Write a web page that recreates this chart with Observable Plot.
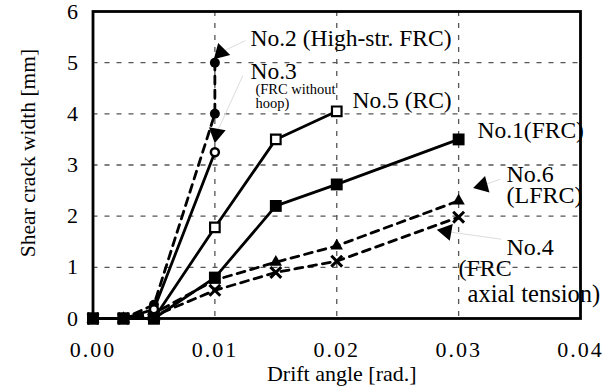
<!DOCTYPE html>
<html><head><meta charset="utf-8">
<script src="https://cdn.jsdelivr.net/npm/d3@7"></script>
<script src="https://cdn.jsdelivr.net/npm/@observablehq/plot@0.6"></script>
<style>body{margin:0;background:#fff;}</style>
</head><body><div id="chart"></div>
<script>
// ---- data ----
const driftAngles = [0, 0.0025, 0.005, 0.01, 0.015, 0.02, 0.03];
const no1FRC      = [0, 0, 0, 0.8, 2.2, 2.62, 3.5];
const no5RC       = [0, 0, 0, 1.78, 3.5, 4.05];
const no6LFRC     = [0, 0, 0.1, 0.75, 1.1, 1.42, 2.3];
const no4Tension  = [0, 0, 0.05, 0.55, 0.9, 1.12, 1.98];
const no2Angles   = [0, 0.0025, 0.005, 0.01, 0.01];
const no2HighStr  = [0, 0, 0.27, 4.0, 5.0];
const no3Angles   = [0, 0.0025, 0.005, 0.01];
const no3NoHoop   = [0, 0, 0.18, 3.25];

const xTicks = [0, 0.01, 0.02, 0.03, 0.04];
const yTicks = [0, 1, 2, 3, 4, 5, 6];
const xGrid = [0.01, 0.02, 0.03];
const yGrid = [1, 2, 3, 4, 5];

const labelTexts = ["No.2 (High-str. FRC)", "No.3", "(FRC without", "hoop)", "No.5 (RC)", "No.1(FRC)", "No.6", "(LFRC)", "No.4", "(FRC", "axial tension)"];
const labelX     = [0.01292, 0.01292, 0.01333, 0.01333, 0.02129, 0.03155, 0.03393, 0.03393, 0.03393, 0.02999, 0.03073];
const labelY     = [5.335, 4.69, 4.397, 4.12, 4.12, 3.537, 2.66, 2.267, 1.25, 0.84, 0.313];
const labelSize  = [23.5, 23.5, 14.5, 14.5, 23.5, 23.5, 24, 24, 24, 24, 24.5];

// leader arrowheads and their faint leader lines
const arrowX     = [0.01048, 0.01013, 0.03196, 0.0290];
const arrowY     = [5.2, 3.615, 2.6, 1.70];
const arrowAngle = [225, 190, 255, 280];
const leaderX2   = [0.0125, 0.0123, 0.0334, 0.0335];
const leaderY2   = [5.43, 4.75, 2.72, 1.55];

const rows = (xs, ys) => ys.map((y, i) => ({x: xs[i], y}));
const s1 = rows(driftAngles, no1FRC);
const s5 = rows(driftAngles, no5RC);
const s6 = rows(driftAngles, no6LFRC);
const s4 = rows(driftAngles, no4Tension);
const s2 = rows(no2Angles, no2HighStr);
const s3 = rows(no3Angles, no3NoHoop);
const labels = labelTexts.map((t, i) => ({t, x: labelX[i], y: labelY[i], s: labelSize[i]}));
const arrows = arrowX.map((x, i) => ({x, y: arrowY[i], a: arrowAngle[i], x2: leaderX2[i], y2: leaderY2[i]}));

const dash = "8,6";
const lw = 2.8;

const chart = Plot.plot({
  width: 614, height: 389,
  marginLeft: 92.5, marginRight: 34, marginTop: 11, marginBottom: 71,
  x: {domain: [0, 0.04]},
  y: {domain: [0, 6]},
  style: {fontFamily: "'Liberation Serif', 'Times New Roman', serif", fontSize: "22px", background: "white", color: "black", overflow: "visible"},
  marks: [
    Plot.gridY(yGrid, {stroke: "#555", strokeOpacity: 1, strokeWidth: 1.3, strokeDasharray: "5,7"}),
    Plot.gridX(xGrid, {stroke: "#555", strokeOpacity: 1, strokeWidth: 1.3, strokeDasharray: "5,7"}),
    Plot.link(arrows, {x1: "x", y1: "y", x2: "x2", y2: "y2", stroke: "#ddd", strokeWidth: 1}),
    Plot.line(s6, {x: "x", y: "y", stroke: "black", strokeWidth: lw, strokeDasharray: dash}),
    Plot.line(s4, {x: "x", y: "y", stroke: "black", strokeWidth: lw, strokeDasharray: dash}),
    Plot.line(s2, {x: "x", y: "y", stroke: "black", strokeWidth: lw, strokeDasharray: dash}),
    Plot.line(s3, {x: "x", y: "y", stroke: "black", strokeWidth: lw}),
    Plot.line(s5, {x: "x", y: "y", stroke: "black", strokeWidth: lw}),
    Plot.line(s1, {x: "x", y: "y", stroke: "black", strokeWidth: lw}),
    Plot.dot(s6, {x: "x", y: "y", symbol: "triangle", r: 4.6, fill: "black"}),
    Plot.dot(s4, {x: "x", y: "y", symbol: "times", r: 5, stroke: "black", strokeWidth: 3}),
    Plot.dot(s2, {x: "x", y: "y", symbol: "circle", r: 5, fill: "black"}),
    Plot.dot(s3, {x: "x", y: "y", symbol: "circle", r: 4, fill: "white", stroke: "black", strokeWidth: 2.5}),
    Plot.dot(s5, {x: "x", y: "y", symbol: "square", r: 5.4, fill: "white", stroke: "black", strokeWidth: 2.2}),
    Plot.dot(s1, {x: "x", y: "y", symbol: "square", r: 6.7, fill: "black"}),
    Plot.dot(arrows, {x: "x", y: "y", symbol: "triangle", r: 6.3, fill: "black", rotate: "a"}),
    Plot.frame({stroke: "black", strokeWidth: 2.8}),
    Plot.axisX(xTicks, {tickSize: 0, tickPadding: 23, tickFormat: d3.format(".2f"), label: null, fontSize: 22}),
    Plot.axisY(yTicks, {tickSize: 0, tickPadding: 15, tickFormat: d3.format("d"), label: null, fontSize: 22}),
    Plot.text(["Drift angle [rad.]"], {frameAnchor: "bottom", lineAnchor: "bottom", dy: 62, dx: 5, fontSize: 22, ariaLabel: "xlabel"}),
    Plot.text(["Shear crack width [mm]"], {frameAnchor: "left", textAnchor: "middle", lineAnchor: "middle", rotate: -90, dx: -64.5, dy: -12, fontSize: 21.5}),
    Plot.text(labels, {x: "x", y: "y", text: "t", fontSize: "s", textAnchor: "start", lineAnchor: "bottom", fill: "black", clip: false})
  ]
});
document.getElementById("chart").appendChild(chart);
d3.select(chart).selectAll("[aria-label='x-axis tick label'] text").style("letter-spacing", "2px");
d3.select(chart).selectAll("[aria-label='xlabel'] text").style("letter-spacing", "1.5px");
</script>
</body></html>
